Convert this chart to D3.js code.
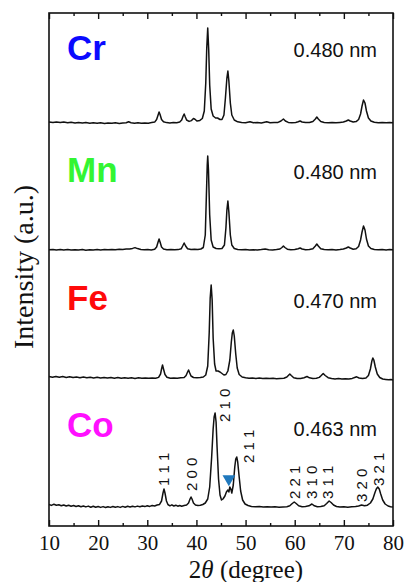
<!DOCTYPE html>
<html>
<head>
<meta charset="utf-8">
<script src="https://cdn.jsdelivr.net/npm/d3@7"></script>
<style>
    html, body { margin: 0; padding: 0; background: #fff; }
    svg { display: block; }
</style>
</head>
<body>
<script>
// ---- data (2theta in degrees, intensity in a.u.) ----
var samples = ["Cr", "Mn", "Fe", "Co"];
var latticeLabels = ["0.480 nm", "0.480 nm", "0.470 nm", "0.463 nm"];
var xTicks = [10, 20, 30, 40, 50, 60, 70, 80];
var xMinorTicks = [15, 25, 35, 45, 55, 65, 75];

var crPattern = [[10,1.0],[10.8,0.5],[11.5,1.1],[12.3,0.4],[13,0.9],[13.8,0.2],[14.5,0.7],[15.3,0.1],[16,0.6],[16.8,0.0],[17.5,0.4],[18.3,-0.2],[19,0.3],[19.8,-0.3],[20.5,0.2],[21.3,-0.4],[22,0.1],[22.8,-0.3],[23.5,0.2],[24.3,-0.4],[25,0.0],[25.7,0.3],[26.2,1.2],[26.7,0.2],[27.4,-0.3],[28.1,0.2],[28.8,-0.3],[29.5,0.1],[30.2,-0.2],[30.9,0.4],[31.5,0.9],[31.9,3.5],[32.2,8],[32.4,11],[32.6,8.5],[32.9,3.5],[33.3,1.2],[33.9,0.4],[34.6,0.1],[35.3,0.5],[36.0,0.3],[36.6,1.0],[37.0,3],[37.3,7],[37.5,9],[37.7,6.5],[38.0,3],[38.5,1.6],[39.0,2.4],[39.4,4.5],[39.7,3.8],[40.1,2],[40.7,2.6],[41.2,4.5],[41.6,12],[41.9,40],[42.1,75],[42.3,95],[42.5,73],[42.7,38],[43.0,14],[43.4,7],[43.9,5],[44.3,5],[44.8,3.5],[45.2,3.5],[45.6,8],[45.9,25],[46.2,45],[46.4,52],[46.6,42],[46.9,20],[47.2,8],[47.7,3],[48.4,1.2],[49.2,0.6],[50.0,0.3],[50.9,1.2],[51.6,0.2],[52.4,0.5],[53.2,0.1],[54.3,1.2],[55.0,0.2],[55.8,0.5],[56.6,0.6],[57.2,2],[57.7,4],[58.1,2],[58.7,0.6],[59.4,0.3],[60.2,0.6],[60.7,1.2],[61.1,2],[61.5,1],[62.2,0.4],[63.0,0.5],[63.7,1.5],[64.2,4],[64.5,6],[64.8,4],[65.3,1.5],[66.0,0.6],[66.8,0.3],[67.6,0.5],[68.4,0.2],[69.2,0.6],[69.9,1],[70.5,2],[70.9,3],[71.3,2],[71.9,1],[72.5,1.4],[73.0,3.5],[73.4,9],[73.7,17],[74.0,23],[74.3,20],[74.6,12],[75.0,5],[75.5,2],[76.2,0.7],[77.0,0.3],[77.8,0.6],[78.6,0.2],[79.3,0.5],[80,0.3]];

var mnPattern = [[10,0.3],[10.8,0.6],[11.5,0.1],[12.3,0.5],[13,0.0],[13.8,0.4],[14.5,-0.1],[15.3,0.3],[16,0.0],[16.8,0.4],[17.5,-0.2],[18.3,0.3],[19,0.0],[19.8,0.4],[20.5,0.1],[21.3,0.5],[22,0.2],[22.8,0.6],[23.5,0.3],[24.3,0.7],[25,0.5],[25.7,0.9],[26.4,1.0],[27.0,1.6],[27.5,2.4],[28.0,1.4],[28.7,0.5],[29.4,0.2],[30.1,0.4],[30.8,0.1],[31.5,0.7],[31.9,3],[32.2,8],[32.4,11],[32.6,8],[32.9,3],[33.3,1],[34.0,0.3],[34.8,0.5],[35.6,0.2],[36.3,0.4],[36.9,1.2],[37.2,4],[37.5,7],[37.8,4],[38.2,1.2],[38.9,0.6],[39.6,0.8],[40.3,0.6],[40.9,1],[41.4,2.5],[41.8,15],[42.0,50],[42.2,85],[42.3,94],[42.45,80],[42.7,35],[43.0,10],[43.4,3],[44.0,1.5],[44.6,1.2],[45.2,1.5],[45.7,5],[46.0,22],[46.2,40],[46.4,49],[46.6,38],[46.9,15],[47.2,5],[47.7,1.5],[48.4,0.6],[49.2,0.2],[50.0,0.4],[50.8,0.1],[51.6,0.3],[52.4,0.0],[53.2,0.4],[54.0,1.0],[54.7,0.3],[55.5,0.1],[56.3,0.4],[57.0,1],[57.4,2.5],[57.7,4],[58.0,2.5],[58.5,0.8],[59.2,0.3],[60.0,0.5],[60.7,1.2],[61.1,2],[61.5,1],[62.2,0.3],[63.0,0.4],[63.7,1.3],[64.2,4],[64.5,6],[64.8,4],[65.3,1.2],[66.0,0.4],[66.8,0.2],[67.6,0.5],[68.4,0.1],[69.2,0.5],[69.9,1],[70.5,2],[70.9,3],[71.3,2],[71.9,0.8],[72.5,1.2],[73.0,3.5],[73.4,10],[73.7,18],[74.0,24],[74.3,20],[74.6,11],[75.0,4],[75.5,1.5],[76.2,0.5],[77.0,0.2],[77.8,0.5],[78.6,0.1],[79.3,0.4],[80,0.2]];

var fePattern = [[10,1.5],[10.7,0.8],[11.4,1.6],[12.1,0.7],[12.8,1.4],[13.5,0.6],[14.2,1.2],[14.9,0.4],[15.6,1.1],[16.3,0.3],[17.0,0.9],[17.7,0.2],[18.4,0.8],[19.1,0.1],[19.8,0.7],[20.5,0.0],[21.2,0.6],[21.9,-0.1],[22.6,0.5],[23.3,-0.2],[24.0,0.4],[24.7,-0.3],[25.4,0.3],[26.1,-0.3],[26.8,0.2],[27.5,-0.4],[28.2,0.2],[28.9,-0.3],[29.6,0.1],[30.3,-0.3],[31.0,0.0],[31.7,-0.2],[32.3,0.6],[32.7,4],[32.9,9],[33.1,13],[33.3,9],[33.6,3.5],[34.0,0.8],[34.7,-0.2],[35.4,0.1],[36.1,-0.3],[36.8,0.2],[37.5,0.4],[37.9,2.5],[38.2,6],[38.4,8],[38.6,5.5],[38.9,2],[39.4,0.5],[40.1,0.2],[40.8,0.4],[41.4,1],[41.9,3],[42.3,12],[42.6,45],[42.8,80],[43.0,93],[43.2,78],[43.4,40],[43.7,14],[44.0,7],[44.4,7],[44.8,6],[45.2,4.5],[45.6,3],[46.0,3.5],[46.4,7],[46.8,18],[47.1,36],[47.3,45],[47.5,48],[47.7,42],[48.0,24],[48.3,10],[48.7,3.5],[49.3,1],[50.0,0.2],[50.7,-0.3],[51.4,0.0],[52.1,-0.4],[52.8,-0.1],[53.5,-0.5],[54.2,-0.2],[54.9,-0.6],[55.6,-0.3],[56.3,-0.7],[57.0,-0.4],[57.8,-0.2],[58.4,1],[58.8,3],[59.0,4],[59.3,2.5],[59.8,0.2],[60.5,-0.6],[61.2,-0.4],[61.9,0.3],[62.5,1.5],[63.0,0.2],[63.7,-0.5],[64.4,-0.2],[65.0,0.6],[65.4,2.5],[65.8,4.5],[66.2,2.5],[66.8,0.3],[67.5,-0.6],[68.2,-0.9],[68.9,-0.6],[69.6,-1.0],[70.3,-0.7],[71.0,-0.9],[71.7,-0.4],[72.2,0.5],[72.6,1.2],[73.1,0],[73.8,-0.6],[74.5,0],[75.0,2.5],[75.4,9],[75.7,17],[75.9,20],[76.1,18],[76.4,11],[76.8,4],[77.3,0.5],[77.9,-1.0],[78.5,-1.4],[79.1,-1.8],[79.6,-1.5],[80,-2.0]];

var coPattern = [[10,2.5],[10.5,1.6],[11.0,2.8],[11.5,1.8],[12.0,2.2],[12.5,1.2],[13.0,2.0],[13.5,1.0],[14.0,1.8],[14.5,0.8],[15.0,1.5],[15.5,0.5],[16.0,1.3],[16.5,0.3],[17.0,1.0],[17.5,0.1],[18.0,0.9],[18.5,-0.2],[19.0,0.7],[19.5,-0.3],[20.0,0.5],[20.5,-0.4],[21.0,0.4],[21.5,-0.5],[22.0,0.3],[22.5,-0.4],[23.0,0.5],[23.5,-0.3],[24.0,0.4],[24.5,-0.4],[25.0,0.6],[25.5,-0.2],[26.0,0.7],[26.5,0.0],[27.0,0.8],[27.5,0.1],[28.0,0.9],[28.5,0.2],[29.0,1.0],[29.5,0.4],[30.0,1.2],[30.5,0.6],[31.0,1.5],[31.5,1.0],[32.0,2.0],[32.5,2.6],[32.9,6],[33.2,14],[33.4,18],[33.6,14],[33.9,6],[34.2,2.5],[34.6,1.2],[35.0,2.2],[35.4,1.0],[35.8,1.8],[36.2,0.8],[36.6,1.5],[37.0,0.8],[37.5,1.5],[38.0,2],[38.4,4],[38.7,8],[38.9,10],[39.1,8],[39.4,4],[39.8,2],[40.3,1.5],[40.8,1.8],[41.3,2.5],[41.8,4],[42.3,8],[42.7,20],[43.1,50],[43.4,78],[43.6,90],[43.8,94],[44.0,85],[44.2,60],[44.5,28],[44.8,12],[45.1,7],[45.4,8],[45.8,11],[46.1,15],[46.4,17],[46.6,15],[46.8,20],[47.0,18],[47.2,14],[47.5,22],[47.8,40],[48.0,48],[48.2,50],[48.4,45],[48.7,30],[49.0,16],[49.4,7],[49.9,3],[50.5,1.5],[51.2,0.6],[52.0,0.2],[52.8,0.5],[53.6,0.0],[54.4,0.3],[55.2,-0.1],[56.0,0.2],[56.8,-0.2],[57.6,0.1],[58.4,0.3],[59.0,1.2],[59.5,3.5],[59.9,5],[60.3,3.5],[60.8,1.2],[61.5,0.2],[62.2,0.4],[62.9,1.2],[63.5,3],[64.0,1.2],[64.6,0.2],[65.3,0.5],[66.0,1.2],[66.5,3.5],[67.0,6],[67.4,4.5],[67.9,2],[68.5,0.5],[69.2,0.0],[70.0,0.3],[70.8,-0.2],[71.6,0.2],[72.4,0.4],[73.0,1],[73.6,2],[74.2,1.2],[74.8,1.8],[75.4,4],[75.9,8],[76.3,14],[76.6,18],[76.9,20],[77.2,18],[77.5,13],[77.9,7],[78.4,3],[79.0,1],[79.5,0.3],[80,0.0]];

// Miller indices on the Co pattern: label text, 2theta of label, intensity where it starts
var millerLabels = ["1 1 1", "2 0 0", "2 1 0", "2 1 1", "2 2 1", "3 1 0", "3 1 1", "3 2 0", "3 2 1"];
var millerAt = [33.4, 39.1, 45.8, 50.7, 59.9, 63.4, 66.7, 73.6, 77.0];
var millerLevel = [21, 16, 85, 44, 8, 8, 8, 5, 21];
// impurity marker (blue triangle) on the Co pattern
var markerAt = [46.6];
var markerLevel = [28];

var patterns = [crPattern, mnPattern, fePattern, coPattern];

// ---- layout ----
var width = 406, height = 582;
var plot = { left: 49, right: 393, top: 13, bottom: 526 };
var stackOffsets = [403, 276, 148, 19];
var sampleColors = ["#0a0aff", "#33f533", "#ff0a0a", "#ff10ff"];

var svg = d3.select("body").append("svg")
    .attr("width", width)
    .attr("height", height);

var x = d3.scaleLinear().domain([10, 80]).range([plot.left, plot.right]);
var y = d3.scaleLinear().domain([0, 513]).range([plot.bottom, plot.top]);

var line = d3.line()
    .x(function (d) { return x(d[0]); })
    .y(function (d) { return y(d[1]); });

// traces
svg.append("g").selectAll("path")
    .data(patterns)
    .enter()
    .append("path")
    .attr("fill", "none")
    .attr("stroke", "#111")
    .attr("stroke-width", 1.5)
    .attr("stroke-linejoin", "round")
    .attr("d", function (d, i) {
        return line(d.map(function (p) { return [p[0], p[1] + stackOffsets[i]]; }));
    });

// sample names and lattice values
svg.append("g").selectAll("text")
    .data(samples)
    .enter()
    .append("text")
    .attr("x", 67)
    .attr("y", function (d, i) { return [60, 182, 310, 437][i]; })
    .attr("font-family", "Liberation Sans, Arial, sans-serif")
    .attr("font-weight", "bold")
    .attr("font-size", 35)
    .attr("fill", function (d, i) { return sampleColors[i]; })
    .text(function (d) { return d; });

svg.append("g").selectAll("text")
    .data(latticeLabels)
    .enter()
    .append("text")
    .attr("x", 377)
    .attr("y", function (d, i) { return [57, 179, 308, 436][i]; })
    .attr("text-anchor", "end")
    .attr("font-family", "Liberation Sans, Arial, sans-serif")
    .attr("font-size", 20)
    .attr("fill", "#111")
    .text(function (d) { return d; });

// Miller indices
svg.append("g").selectAll("text")
    .data(millerLabels)
    .enter()
    .append("text")
    .attr("transform", function (d, i) {
        return "translate(" + x(millerAt[i]) + "," + y(millerLevel[i] + stackOffsets[3]) + ") rotate(-90)";
    })
    .attr("dy", "0.36em")
    .attr("font-family", "Liberation Sans, Arial, sans-serif")
    .attr("font-size", 15)
    .attr("fill", "#111")
    .text(function (d) { return d; });

svg.append("g").selectAll("path")
    .data(markerAt)
    .enter()
    .append("path")
    .attr("d", d3.symbol().type(d3.symbolTriangle).size(70))
    .attr("transform", function (d, i) {
        return "translate(" + x(d) + "," + y(markerLevel[i] + stackOffsets[3]) + ") rotate(180)";
    })
    .attr("fill", "#1f78bd");

// axes: ticks point inwards
var fontSerif = "Liberation Serif, Times New Roman, serif";

var bottomAxis = svg.append("g")
    .attr("transform", "translate(0," + plot.bottom + ")")
    .call(d3.axisBottom(x).tickValues(xTicks).tickSizeInner(-6).tickSizeOuter(0).tickPadding(9).tickFormat(d3.format("d")));
bottomAxis.selectAll("text").attr("font-family", fontSerif).attr("font-size", 21).attr("fill", "#111");

svg.append("g")
    .attr("transform", "translate(0," + plot.bottom + ")")
    .call(d3.axisBottom(x).tickValues(xMinorTicks).tickSizeInner(-3).tickSizeOuter(0).tickFormat(""));

svg.append("g")
    .attr("transform", "translate(0," + plot.top + ")")
    .call(d3.axisTop(x).tickValues(xTicks).tickSizeInner(-6).tickSizeOuter(0).tickFormat(""));

svg.append("g")
    .attr("transform", "translate(0," + plot.top + ")")
    .call(d3.axisTop(x).tickValues(xMinorTicks).tickSizeInner(-3).tickSizeOuter(0).tickFormat(""));

svg.selectAll(".domain").remove();
svg.selectAll(".tick line").attr("stroke", "#111").attr("stroke-width", 1.4);

svg.append("rect")
    .attr("x", plot.left)
    .attr("y", plot.top)
    .attr("width", plot.right - plot.left)
    .attr("height", plot.bottom - plot.top)
    .attr("fill", "none")
    .attr("stroke", "#111")
    .attr("stroke-width", 1.6);

// axis titles
var xTitle = svg.append("text")
    .attr("x", 246)
    .attr("y", 578)
    .attr("text-anchor", "middle")
    .attr("font-family", fontSerif)
    .attr("font-size", 25)
    .attr("fill", "#111");
xTitle.append("tspan").text("2");
xTitle.append("tspan").attr("font-style", "italic").text("θ");
xTitle.append("tspan").text(" (degree)");

svg.append("text")
    .attr("transform", "translate(33,267) rotate(-90)")
    .attr("text-anchor", "middle")
    .attr("font-family", fontSerif)
    .attr("font-size", 28)
    .attr("fill", "#111")
    .text("Intensity (a.u.)");
</script>
</body>
</html>
